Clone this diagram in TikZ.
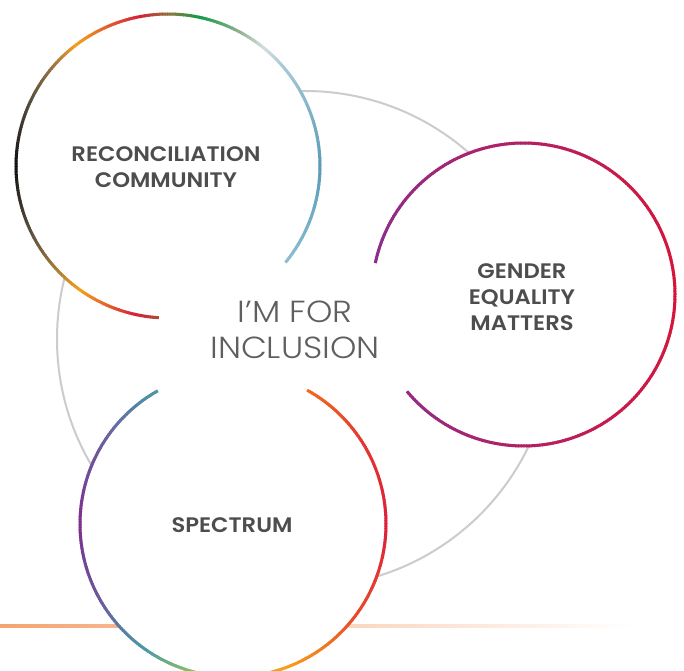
\documentclass[tikz,border=0pt]{standalone}
\usepackage{fontspec}
\newfontfamily\labfont[FakeStretch=1.08]{Poppins SemiBold}
\newfontfamily\cenfont[FakeStretch=1.1]{Poppins Light}
% reconciliation stops
\definecolor{ra}{HTML}{8CBFD3}\definecolor{rb}{HTML}{5A9BB8}\definecolor{rc}{HTML}{A8C9D8}
\definecolor{rd}{HTML}{D6DDDC}\definecolor{re}{HTML}{8AB08A}\definecolor{rf}{HTML}{0F9A48}
\definecolor{rg}{HTML}{8C7A3A}\definecolor{rh}{HTML}{D3203A}\definecolor{ri}{HTML}{F5A21C}
\definecolor{rj}{HTML}{9A7440}\definecolor{rk}{HTML}{5A5040}\definecolor{rl}{HTML}{111111}
\definecolor{rm}{HTML}{5A5040}\definecolor{rn}{HTML}{8A6E3A}\definecolor{ro}{HTML}{F5A01C}
\definecolor{rp}{HTML}{D4203A}\definecolor{rq}{HTML}{B04A36}
% gender stops
\definecolor{ga}{HTML}{942A85}\definecolor{gb}{HTML}{B12164}\definecolor{gc}{HTML}{CC1947}
\definecolor{gd}{HTML}{D7153A}\definecolor{ge}{HTML}{8B2D8F}
% spectrum stops
\definecolor{sa}{HTML}{4A98A8}\definecolor{sb}{HTML}{6A64A0}\definecolor{sc}{HTML}{7D2E8E}
\definecolor{sd}{HTML}{6A5A9A}\definecolor{se}{HTML}{4A98A8}\definecolor{sf}{HTML}{8CC060}
\definecolor{sg}{HTML}{C8B040}\definecolor{sh}{HTML}{F7A01E}\definecolor{si}{HTML}{F28020}
\definecolor{sj}{HTML}{E8502A}\definecolor{sk}{HTML}{DC1F3A}\definecolor{sl}{HTML}{E43A30}
\definecolor{sm}{HTML}{F26A20}
\definecolor{greyring}{HTML}{CCCCCC}
\definecolor{labgrey}{HTML}{4D4D4D}
\definecolor{cengrey}{HTML}{5F5F5F}
\definecolor{lineorange}{HTML}{F4A472}
% gradient arc segment: cx, cy, r, a1, a2, colour1, colour2
\newcommand\gseg[7]{%
  \pgfmathtruncatemacro\nn{max(1,round(abs(#5-#4)))}%
  \foreach \k in {1,...,\nn}{%
    \pgfmathsetmacro\sa{#4+(#5-#4)*(\k-1)/\nn}%
    \pgfmathsetmacro\ea{#4+(#5-#4)*\k/\nn+0.35}%
    \pgfmathtruncatemacro\pp{round(100*(\k-0.5)/\nn)}%
    \draw[ringline, draw=#7!\pp!#6] (#1,#2) ++(\sa:#3) arc[start angle=\sa, end angle=\ea, radius=#3];
  }}
\tikzset{
  ringline/.style={line width=3pt, line cap=butt},
  labeltext/.style={font=\labfont\fontsize{21}{26}\selectfont, text=labgrey, align=center, inner sep=0pt},
  centertext/.style={font=\cenfont\fontsize{30.5}{36}\selectfont, text=cengrey, align=center, inner sep=0pt},
}
\begin{document}
\begin{tikzpicture}[x=1pt,y=1pt]
\useasboundingbox (0,0) rectangle (684,670);
\fill[white] (0,0) rectangle (684,670);
% bottom line
\shade[left color=lineorange, right color=white] (0,42.7) rectangle (634,45.3);
% big grey circle
\draw[greyring, line width=2pt] (305,331) circle[radius=248];
% white discs
\fill[white] (168,504) circle[radius=152];
\fill[white] (523.5,375.5) circle[radius=151.5];
\fill[white] (233,146) circle[radius=153];
% reconciliation ring
\gseg{168}{504}{152}{-39.4}{0}{ra}{rb}
\gseg{168}{504}{152}{0}{41}{rb}{rc}
\gseg{168}{504}{152}{41}{51}{rc}{rd}
\gseg{168}{504}{152}{51}{63}{rd}{re}
\gseg{168}{504}{152}{63}{78}{re}{rf}
\gseg{168}{504}{152}{78}{89}{rf}{rg}
\gseg{168}{504}{152}{89}{100.7}{rg}{rh}
\gseg{168}{504}{152}{100.7}{127}{rh}{ri}
\gseg{168}{504}{152}{127}{139}{ri}{rj}
\gseg{168}{504}{152}{139}{154}{rj}{rk}
\gseg{168}{504}{152}{154}{180}{rk}{rl}
\gseg{168}{504}{152}{180}{206}{rl}{rm}
\gseg{168}{504}{152}{206}{218}{rm}{rn}
\gseg{168}{504}{152}{218}{235}{rn}{ro}
\gseg{168}{504}{152}{235}{258}{ro}{rp}
\gseg{168}{504}{152}{258}{266.2}{rp}{rq}
% gender ring
\gseg{523.5}{375.5}{151.5}{-140.3}{-90}{ga}{gb}
\gseg{523.5}{375.5}{151.5}{-90}{-45}{gb}{gc}
\gseg{523.5}{375.5}{151.5}{-45}{0}{gc}{gd}
\gseg{523.5}{375.5}{151.5}{0}{45}{gd}{gc}
\gseg{523.5}{375.5}{151.5}{45}{90}{gc}{gb}
\gseg{523.5}{375.5}{151.5}{90}{167.7}{gb}{ge}
% spectrum ring
\gseg{233}{146}{153}{119.4}{144}{sa}{sb}
\gseg{233}{146}{153}{144}{180}{sb}{sc}
\gseg{233}{146}{153}{180}{210}{sc}{sd}
\gseg{233}{146}{153}{210}{234}{sd}{se}
\gseg{233}{146}{153}{234}{255}{se}{sf}
\gseg{233}{146}{153}{255}{272}{sf}{sg}
\gseg{233}{146}{153}{272}{289}{sg}{sh}
\gseg{233}{146}{153}{289}{304}{sh}{si}
\gseg{233}{146}{153}{304}{320}{si}{sj}
\gseg{233}{146}{153}{320}{360}{sj}{sk}
\gseg{233}{146}{153}{360}{394}{sk}{sl}
\gseg{233}{146}{153}{394}{420.7}{sl}{sm}
% texts
\node[labeltext] (recon) at (166,502.5) {RECONCILIATION\\COMMUNITY};
\node[labeltext] (gender) at (522,372.5) {GENDER\\EQUALITY\\MATTERS};
\node[labeltext] (spectrum) at (232,145) {SPECTRUM};
\node[centertext] (incl) at (295,340) {I’M FOR\\INCLUSION};
\end{tikzpicture}
\end{document}
